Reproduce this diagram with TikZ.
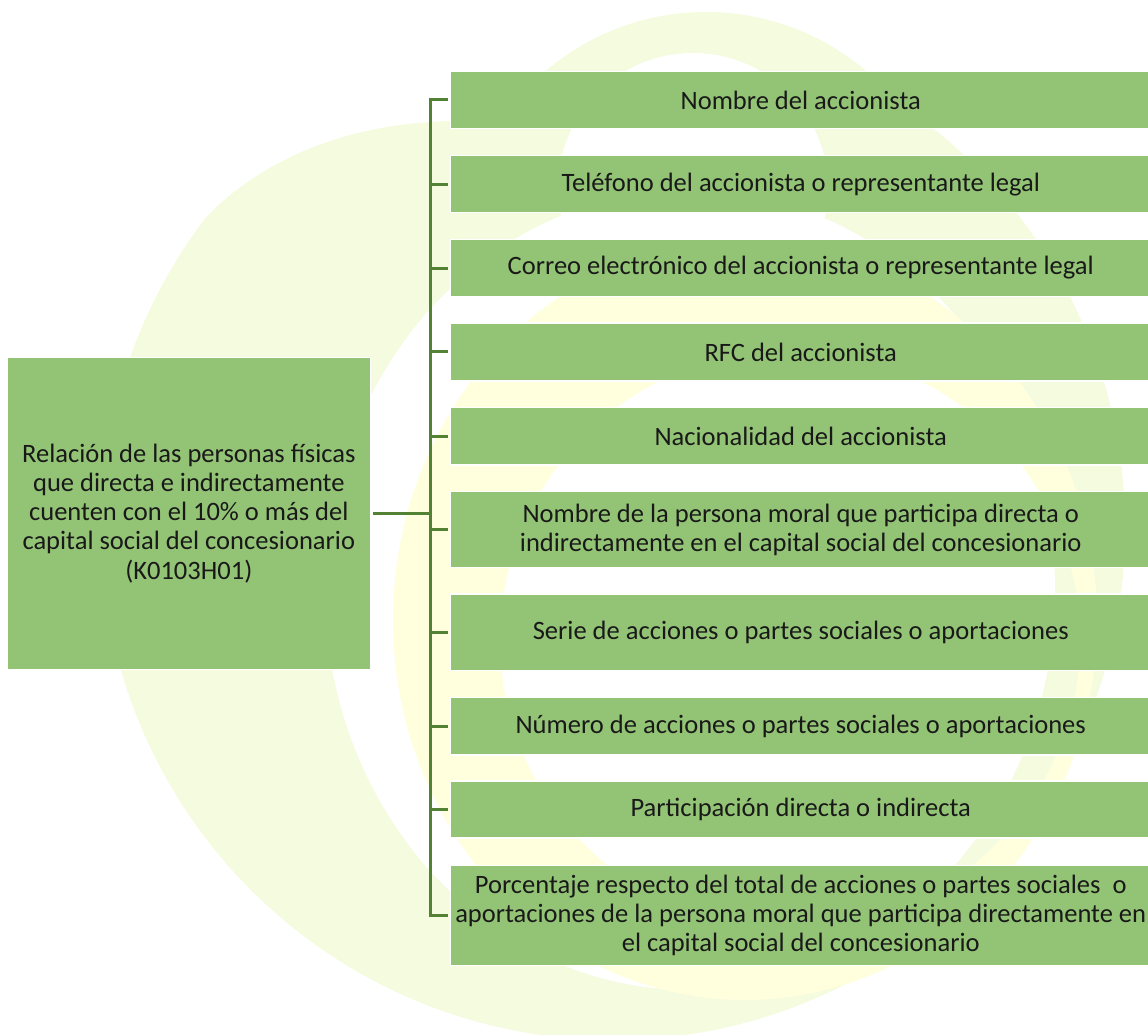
\documentclass[tikz,border=0pt]{standalone}
\usepackage{fontspec}
\setmainfont{Carlito}
\definecolor{boxgreen}{RGB}{147,196,117}
\definecolor{linegreen}{RGB}{84,130,53}
\definecolor{palegreen}{RGB}{244,251,222}
\definecolor{paleyellow}{RGB}{255,255,222}
\definecolor{inktext}{RGB}{25,25,25}

\begin{document}
\begin{tikzpicture}[x=0.75pt,y=-0.75pt,
	item/.style={rectangle,fill=boxgreen,draw=white,line width=1.1pt,inner sep=2pt,align=center,text=inktext,
		font=\fontsize{19.9}{21.9}\selectfont,minimum width=525.75pt,anchor=west},
	link/.style={draw=linegreen,line width=2.25pt}]
	\clip (0,0) rectangle (1148,1034);
	\begin{scope}
		\clip (1200,121) -- (460,121) .. controls (330,121) and (225,175) .. (173,260) -- (0,540) -- (0,1100) -- (1200,1100) -- cycle;
		\fill[palegreen] (613,528) circle [radius=512];
	\end{scope}
	\fill[palegreen] (706,259) circle [radius=247];
	\fill[white] (693,188) circle [radius=135] (690,590) ellipse [x radius=365,y radius=400];
	\fill[paleyellow,even odd rule] (745,620) ellipse [x radius=352,y radius=380] (790,640) circle [radius=290];
	\node[item,anchor=center,minimum width=272.25pt,minimum height=234pt] (root) at (188.8,513.3)
		{Relación de las personas físicas\\que directa e indirectamente\\cuenten con el 10\% o más del\\capital social del concesionario\\(K0103H01)};
	\foreach \ypos/\hgt/\txt [count=\i] in {
		100/42.5pt/{Nombre del accionista},
		184.2/42.75pt/{Teléfono del accionista o representante legal},
		268/43pt/{Correo electrónico del accionista o representante legal},
		351.9/43.5pt/{RFC del accionista},
		436.2/43.3pt/{Nacionalidad del accionista},
		529.7/57pt/{Nombre de la persona moral que participa directa o\\indirectamente en el capital social del concesionario},
		632.4/57.5pt/{Serie de acciones o partes sociales o aportaciones},
		726.2/43.3pt/{Número de acciones o partes sociales o aportaciones},
		809.5/42.75pt/{Participación directa o indirecta},
		915.7/75pt/{Porcentaje respecto del total de acciones o partes sociales~ o\\aportaciones de la persona moral que participa directamente en\\el capital social del concesionario}}
		\node[item,minimum height=\hgt] (b\i) at (449.5,\ypos) {\txt};
	\coordinate (spine) at (430,0);
	\draw[link,shorten <=1.5pt] (root.east) -- (spine |- root.east);
	\draw[link,shorten <=1.4pt,shorten >=1.4pt] (b1.west) -- (spine |- b1.west) -- (spine |- b10.west) -- (b10.west);
	\foreach \i in {2,...,9}
		\draw[link,shorten >=1.4pt] (spine |- b\i.west) -- (b\i.west);
\end{tikzpicture}
\end{document}
